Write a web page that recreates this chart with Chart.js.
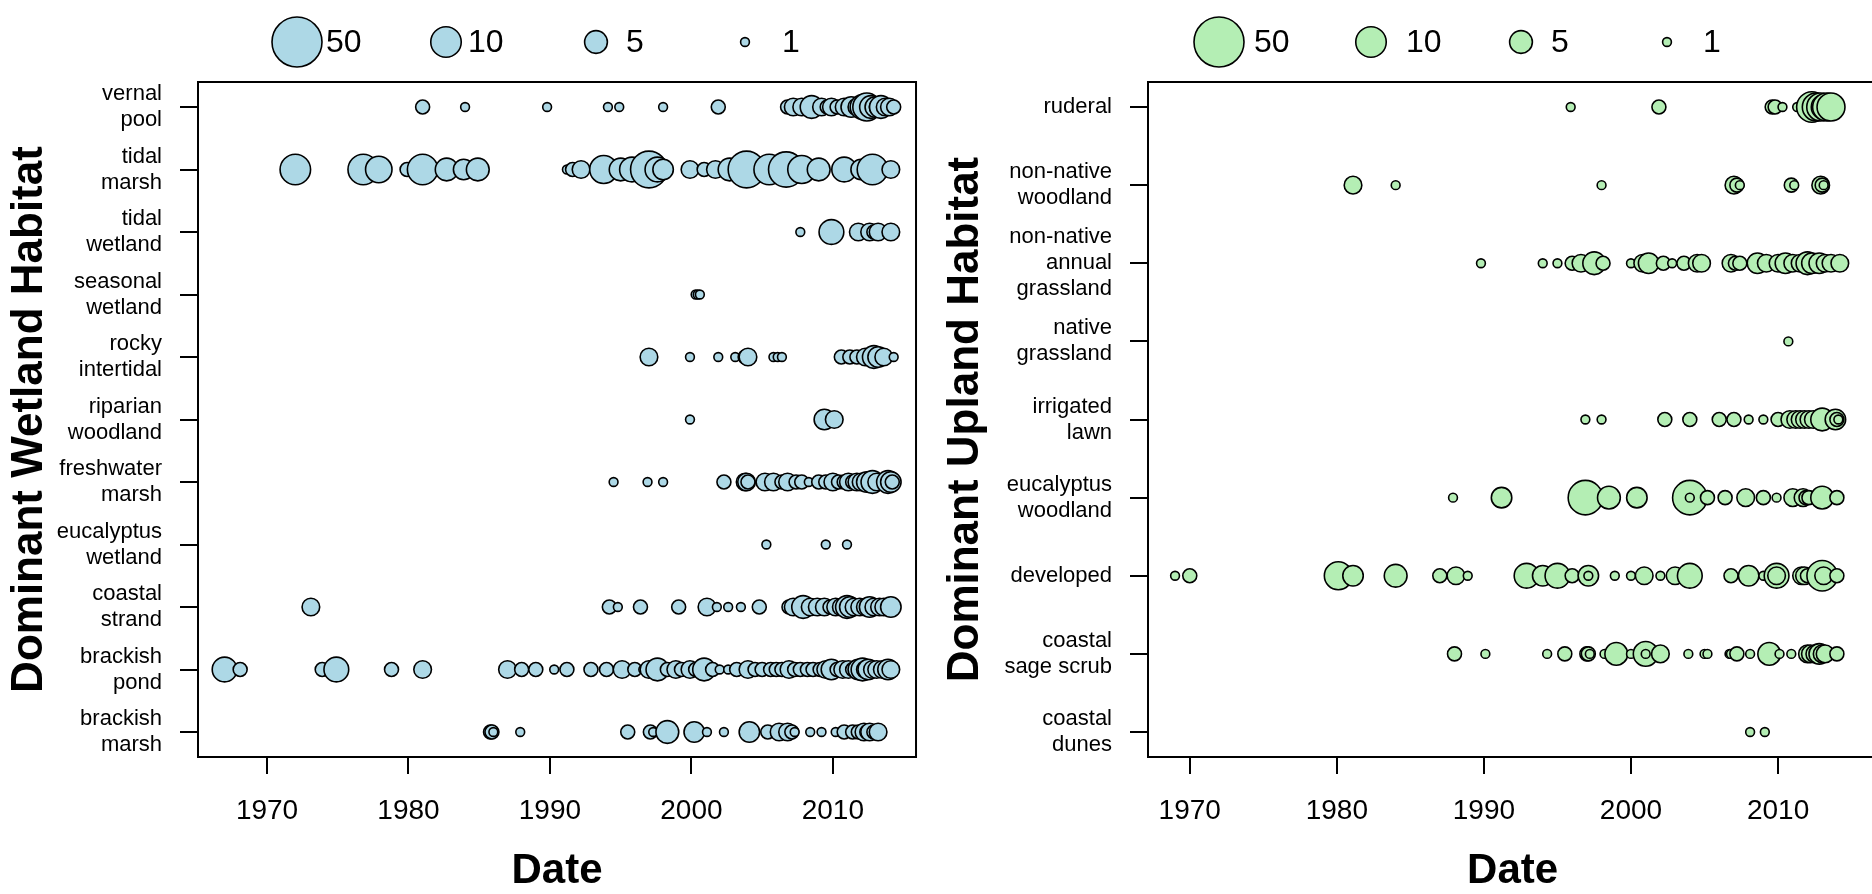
<!DOCTYPE html>
<html lang="en">
<head>
<meta charset="UTF-8">
<title>Dominant habitat by date</title>
<script src="https://cdn.jsdelivr.net/npm/chart.js"></script>
<style>
    html, body { margin: 0; padding: 0; background: #fff; overflow: hidden; }
    body { width: 1872px; height: 894px; position: relative; }
    .panel { position: absolute; top: 0; }
    #wetPanel { left: 0; }
    #upPanel { left: 936px; }
</style>
</head>
<body>
<div class="panel" id="wetPanel"><canvas id="wetChart" width="936" height="894"></canvas></div>
<div class="panel" id="upPanel"><canvas id="upChart" width="960" height="894"></canvas></div>

<script>
const yearTicks = [1970, 1980, 1990, 2000, 2010];
const sizeKey = [50, 10, 5, 1];

// wetland rows, bottom to top; each entry is [year, records]
const wetlandLabels = [
    ['brackish', 'marsh'], ['brackish', 'pond'], ['coastal', 'strand'], ['eucalyptus', 'wetland'],
    ['freshwater', 'marsh'], ['riparian', 'woodland'], ['rocky', 'intertidal'], ['seasonal', 'wetland'],
    ['tidal', 'wetland'], ['tidal', 'marsh'], ['vernal', 'pool']
];
const brackishMarsh = [[1985.8,2],[1985.9,2],[1986.0,1],[1987.9,1],[1995.5,2],[1997.1,2],[1997.3,1],[1998.3,5],[2000.2,4],[2001.1,1],[2002.3,1],[2004.1,4],[2005.4,2],[2006.2,3],[2006.8,3],[2007.1,2],[2007.3,1],[2008.4,1],[2009.2,1],[2010.2,1],[2010.8,2],[2011.4,2],[2011.8,2],[2012.2,3],[2012.4,2],[2012.6,3],[2012.9,2],[2013.2,3]];
const brackishPond = [[1967,6],[1968.1,2],[1973.9,2],[1974.9,6],[1978.8,2],[1981,3],[1987,3],[1988,2],[1989,2],[1990.3,1],[1991.2,2],[1992.9,2],[1994,2],[1995.1,3],[1996,2],[1996.6,1],[1997,3],[1997.6,5],[1998.3,2],[1998.9,3],[1999.3,2],[1999.9,3],[2000.3,2],[2000.9,5],[2001.5,2],[2002,1],[2002.6,1],[2003.2,2],[2004,3],[2004.5,2],[2005,2],[2005.6,2],[2006,2],[2006.4,2],[2006.9,3],[2007.3,2],[2007.7,2],[2008.2,2],[2008.6,2],[2009.1,2],[2009.5,3],[2009.9,4],[2010.3,2],[2010.7,3],[2011.1,3],[2011.4,2],[2011.8,4],[2012.1,5],[2012.3,3],[2012.5,4],[2012.8,3],[2013.1,3],[2013.5,3],[2013.9,4],[2014.1,3]];
const coastalStrand = [[1973.1,3],[1994.2,2],[1994.8,1],[1996.4,2],[1999.1,2],[2001.1,3],[2001.8,1],[2002.6,1],[2003.5,1],[2004.8,2],[2006.9,2],[2007.2,3],[2007.9,5],[2008.4,3],[2008.9,3],[2009.4,3],[2009.8,2],[2010.2,3],[2010.6,3],[2011,5],[2011.2,4],[2011.5,3],[2011.9,3],[2012.3,3],[2012.6,4],[2012.9,3],[2013.3,3],[2013.6,3],[2014.1,4]];
const eucalyptusWetland = [[2005.3,1],[2009.5,1],[2011,1]];
const freshwaterMarsh = [[1994.5,1],[1996.9,1],[1998,1],[2002.3,2],[2003.8,3],[2003.9,3],[2004,2],[2005.2,3],[2005.8,3],[2006.4,2],[2006.8,3],[2007.4,2],[2007.8,2],[2008.3,1],[2009,2],[2009.5,2],[2010,3],[2010.4,2],[2010.8,2],[2011.1,3],[2011.4,2],[2011.7,3],[2012,3],[2012.4,4],[2012.8,5],[2013.1,3],[2013.9,5],[2014.1,4],[2014.2,2]];
const riparianWoodland = [[1999.9,1],[2009.4,4],[2010.1,3]];
const rockyIntertidal = [[1997,3],[1999.9,1],[2001.9,1],[2003.1,1],[2003.8,2],[2004,3],[2005.8,1],[2006.1,1],[2006.4,1],[2010.6,2],[2011.2,2],[2011.7,2],[2012.3,3],[2012.9,5],[2013.2,4],[2013.6,3],[2014.3,1]];
const seasonalWetland = [[2000.3,1],[2000.45,1],[2000.6,1]];
const tidalWetland = [[2007.7,1],[2009.9,6],[2011.8,3],[2012.6,3],[2012.9,2],[2013.2,3],[2014.1,3]];
const tidalMarsh = [[1972,10],[1976.8,10],[1977.9,7],[1979.9,2],[1981,10],[1982.7,5],[1983.9,4],[1984.9,5],[1991.2,1],[1991.6,2],[1992.2,3],[1993.8,8],[1995,5],[1995.8,6],[1997,17],[1997.6,6],[1998,4],[1999.9,3],[2000.9,2],[2001.7,3],[2002.7,5],[2003.9,17],[2005.5,10],[2006.7,15],[2007.8,8],[2009,5],[2010.8,6],[2012,4],[2012.8,10],[2014.1,3]];
const vernalPool = [[1981,2],[1984,1],[1989.8,1],[1994.1,1],[1994.9,1],[1998,1],[2001.9,2],[2006.8,2],[2007.2,3],[2007.8,3],[2008.5,5],[2009.2,3],[2009.6,2],[2009.9,3],[2010.3,2],[2010.8,3],[2011.3,4],[2011.7,3],[2012.1,6],[2012.4,8],[2012.7,5],[2013,4],[2013.2,3],[2013.4,5],[2013.7,3],[2014,3],[2014.3,2]];
const wetlandRows = [brackishMarsh, brackishPond, coastalStrand, eucalyptusWetland, freshwaterMarsh, riparianWoodland, rockyIntertidal, seasonalWetland, tidalWetland, tidalMarsh, vernalPool];

// upland rows, bottom to top
const uplandLabels = [
    ['coastal', 'dunes'], ['coastal', 'sage scrub'], ['developed'], ['eucalyptus', 'woodland'],
    ['irrigated', 'lawn'], ['native', 'grassland'], ['non-native', 'annual', 'grassland'],
    ['non-native', 'woodland'], ['ruderal']
];
const coastalDunes = [[2008.1,1],[2009.1,1]];
const coastalSageScrub = [[1988,2],[1990.1,1],[1994.3,1],[1995.5,2],[1997,2],[1997.1,2],[1997.2,1],[1998.2,1],[1999,5],[2000,1],[2001,6],[2001,1],[2002,3],[2003.9,1],[2005,1],[2005.2,1],[2006.7,1],[2006.8,1],[2007.2,2],[2008.1,1],[2009.4,5],[2010.1,1],[2010.9,1],[2012,3],[2012.2,3],[2012.5,3],[2012.8,4],[2013,3],[2013.2,3],[2014,2]];
const developed = [[1969,1],[1970,2],[1980.1,8],[1981.1,4],[1984,5],[1987,2],[1988.1,3],[1988.9,1],[1992.9,6],[1994,4],[1995,6],[1996,2],[1997.1,4],[1997.1,1],[1998.9,1],[2000,1],[2000.9,3],[2002,1],[2003,3],[2004,6],[2006.8,2],[2008,4],[2009,1],[2009.9,6],[2009.9,3],[2011.6,3],[2011.8,3],[2012,2],[2013,10],[2013.1,3],[2014,2]];
const eucalyptusWoodland = [[1987.9,1],[1991.2,4],[1996.9,14],[1998.5,5],[2000.4,4],[2004,14],[2004,1],[2005.2,2],[2006.4,2],[2007.8,3],[2009,2],[2009.9,1],[2011,3],[2011.7,3],[2011.9,2],[2012.1,2],[2013,5],[2014,2]];
const irrigatedLawn = [[1996.9,1],[1998,1],[2002.3,2],[2004,2],[2006,2],[2007,2],[2008,1],[2009,1],[2010,2],[2010.8,3],[2011.2,3],[2011.5,3],[2011.8,3],[2012.1,3],[2012.4,3],[2013,5],[2013.9,4],[2014,2],[2014.1,1]];
const nativeGrassland = [[2010.7,1]];
const annualGrassland = [[1989.8,1],[1994,1],[1995,1],[1996,2],[1996.6,3],[1997.5,5],[1998.1,2],[2000,1],[2000.8,3],[2001.2,4],[2002.2,2],[2002.8,1],[2003.6,2],[2004.5,3],[2004.8,3],[2006.8,3],[2007.1,2],[2007.4,2],[2008.6,4],[2009.2,3],[2010,3],[2010.5,4],[2011,3],[2011.5,3],[2012,5],[2012.3,4],[2012.8,4],[2013.2,3],[2013.6,3],[2014.2,3]];
const nonNativeWoodland = [[1981.1,3],[1984,1],[1998,1],[2007,3],[2007.2,2],[2007.4,1],[2010.9,2],[2011.1,1],[2012.9,3],[2013,2],[2013.1,1]];
const ruderal = [[1995.9,1],[2001.9,2],[2009.6,2],[2009.8,2],[2010.3,1],[2011.3,1],[2012.3,10],[2012.6,8],[2012.9,8],[2013.1,6],[2013.3,8],[2013.6,8]];
const uplandRows = [coastalDunes, coastalSageScrub, developed, eucalyptusWoodland, irrigatedLawn, nativeGrassland, annualGrassland, nonNativeWoodland, ruderal];

const FONT = "'Liberation Sans', Arial, sans-serif";

// circle radius in px grows with log(records + 1)
function bubbleRadius(n) {
    return 25 * Math.log(n + 1) / Math.log(51);
}

function toPoints(rows) {
    const pts = [];
    rows.forEach((row, i) => {
        row.forEach(([year, n]) => pts.push({ x: year, y: i, r: bubbleRadius(n) }));
    });
    return pts;
}

// closed box round the plotting region
const frame = {
    id: 'frame',
    afterDatasetsDraw(chart) {
        const { ctx, chartArea: a } = chart;
        ctx.save();
        ctx.lineWidth = 2;
        ctx.strokeStyle = '#000';
        ctx.strokeRect(a.left, a.top, a.right - a.left, a.bottom - a.top);
        ctx.restore();
    }
};

// size key along the top
const sizeLegend = {
    id: 'sizeLegend',
    afterDraw(chart, args, o) {
        const ctx = chart.ctx;
        ctx.save();
        sizeKey.forEach((n, i) => {
            ctx.beginPath();
            ctx.arc(o.circleX[i], o.y, bubbleRadius(n), 0, Math.PI * 2);
            ctx.fillStyle = o.fill;
            ctx.fill();
            ctx.lineWidth = 1.6;
            ctx.strokeStyle = '#000';
            ctx.stroke();
            ctx.fillStyle = '#000';
            ctx.font = '32px ' + FONT;
            ctx.textBaseline = 'middle';
            ctx.textAlign = 'left';
            ctx.fillText(String(n), o.labelX[i], o.y + 1);
        });
        ctx.restore();
    }
};

function habitatChart(id, cfg) {
    const pad = 0.04 * (cfg.labels.length - 1);
    return new Chart(document.getElementById(id), {
        type: 'bubble',
        data: {
            datasets: [{
                data: toPoints(cfg.rows),
                backgroundColor: cfg.fill,
                borderColor: '#000',
                borderWidth: 1.6
            }]
        },
        plugins: [frame, sizeLegend],
        options: {
            responsive: false,
            animation: false,
            events: [],
            layout: { padding: { top: 82, right: cfg.padRight, left: 0, bottom: 0 } },
            plugins: {
                legend: { display: false },
                tooltip: { enabled: false },
                sizeLegend: { fill: cfg.fill, y: 42, circleX: cfg.circleX, labelX: cfg.labelX }
            },
            scales: {
                x: {
                    type: 'linear',
                    min: cfg.xMin,
                    max: cfg.xMax,
                    afterFit: s => { s.height = 137; },
                    afterBuildTicks: s => { s.ticks = yearTicks.map(v => ({ value: v })); },
                    grid: { drawOnChartArea: false, tickLength: 17, color: '#000', lineWidth: 2 },
                    border: { display: false },
                    ticks: {
                        color: '#000', padding: 20, maxRotation: 0,
                        font: { family: FONT, size: 28 },
                        callback: v => String(v)
                    },
                    title: {
                        display: true, text: 'Date', color: '#000',
                        font: { family: FONT, size: 42, weight: 'bold', lineHeight: 1 },
                        padding: { top: 0, bottom: 2 }
                    }
                },
                y: {
                    type: 'linear',
                    min: -pad,
                    max: cfg.labels.length - 1 + pad,
                    afterFit: s => { s.width = cfg.yWidth; },
                    afterBuildTicks: s => { s.ticks = cfg.labels.map((_, i) => ({ value: i })); },
                    grid: { drawOnChartArea: false, tickLength: 18, color: '#000', lineWidth: 2 },
                    border: { display: false },
                    ticks: {
                        color: '#000', padding: 18,
                        font: { family: FONT, size: 22, lineHeight: 1.18 },
                        callback: v => cfg.labels[v]
                    },
                    title: {
                        display: true, text: cfg.title, color: '#000',
                        font: { family: FONT, size: 44, weight: 'bold', lineHeight: 1 },
                        padding: { top: 8, bottom: 0 }
                    }
                }
            }
        }
    });
}

habitatChart('wetChart', {
    rows: wetlandRows,
    labels: wetlandLabels,
    title: 'Dominant Wetland Habitat',
    fill: '#add8e6',
    xMin: 1965.12, xMax: 2015.88,
    yWidth: 198, padRight: 2,
    circleX: [297, 446, 596, 745],
    labelX: [326, 468, 626, 782]
});

habitatChart('upChart', {
    rows: uplandRows,
    labels: uplandLabels,
    title: 'Dominant Upland Habitat',
    fill: '#b4eeb4',
    xMin: 1967.16, xMax: 2016.74,
    yWidth: 212, padRight: 12,
    circleX: [283, 435, 585, 731],
    labelX: [318, 470, 615, 767]
});
</script>
</body>
</html>
